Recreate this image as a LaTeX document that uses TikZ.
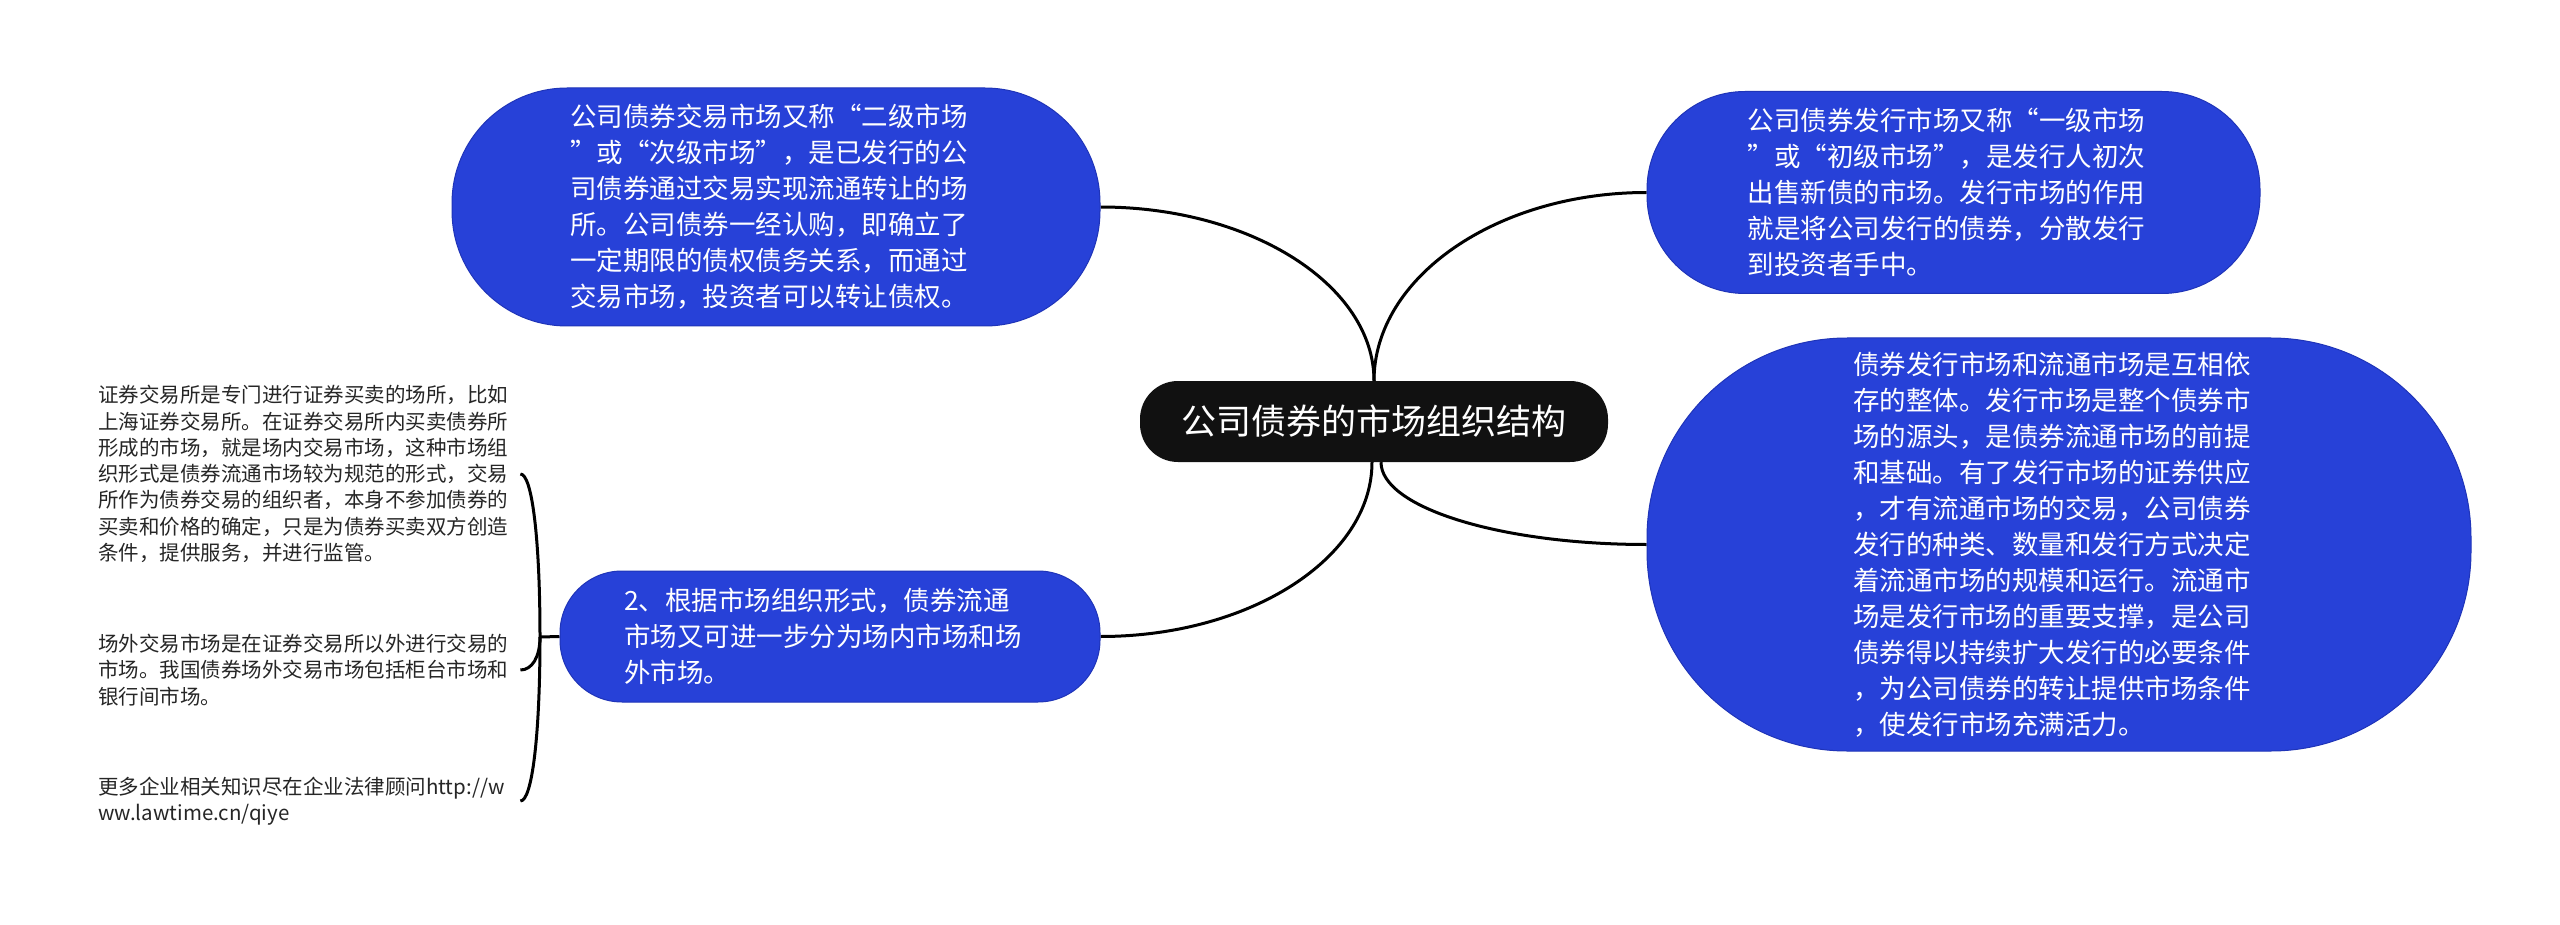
\documentclass[tikz,border=0pt]{standalone}
\usepackage{fontspec}
\setmainfont{Noto Sans CJK SC}
\usetikzlibrary{backgrounds,calc}
\definecolor{nodeblue}{HTML}{2741D8}
\definecolor{nodeedge}{HTML}{1F34B8}
\definecolor{rootfill}{HTML}{111111}
\definecolor{leaftext}{HTML}{262626}
\tikzset{
  bluebox/.style={fill=nodeblue, draw=nodeedge, line width=1pt, text=white, align=left, inner sep=0pt, font=\fontsize{26.5}{36}\selectfont},
  rootbox/.style={fill=rootfill, text=white, inner sep=0pt, rounded corners=38pt, minimum width=468pt, minimum height=81pt, font=\fontsize{35}{42}\selectfont},
  leafnote/.style={text=leaftext, align=left, inner sep=0pt, text width=422pt, anchor=west, font=\fontsize{20.5}{26.3}\selectfont},
  link/.style={draw=black, line width=3pt},
}
\newcommand{\bend}[4]{% start, corner, end, factor
  \draw[link] (#1) .. controls ($(#1)!#4!(#2)$) and ($(#3)!#4!(#2)$) .. (#3);}
\newcommand{\pad}{\kern14pt}
\begin{document}
\begin{tikzpicture}[x=1pt,y=-1pt]
\useasboundingbox (0,0) rectangle (2560,925);

\node[rootbox] (root) at (1374,421.5) {公司债券的市场组织结构};

\node[bluebox, minimum width=648pt, minimum height=238pt, rounded corners=115pt] (tl) at (776,207)
{公司债券交易市场又称“二级市场\pad\\”或“次级市场”，是已发行的公\\司债券通过交易实现流通转让的场\\所。公司债券一经认购，即确立了\\一定期限的债权债务关系，而通过\\交易市场，投资者可以转让债权。};

\node[bluebox, minimum width=613pt, minimum height=202pt, rounded corners=98pt] (tr) at (1953.5,192.5)
{公司债券发行市场又称“一级市场\pad\\”或“初级市场”，是发行人初次\\出售新债的市场。发行市场的作用\\就是将公司发行的债券，分散发行\\到投资者手中。};

\node[bluebox, minimum width=824pt, minimum height=413pt, rounded corners=200pt] (rt) at (2059,544.5)
{债券发行市场和流通市场是互相依\pad\\存的整体。发行市场是整个债券市\\场的源头，是债券流通市场的前提\\和基础。有了发行市场的证券供应\\，才有流通市场的交易，公司债券\\发行的种类、数量和发行方式决定\\着流通市场的规模和运行。流通市\\场是发行市场的重要支撑，是公司\\债券得以持续扩大发行的必要条件\\，为公司债券的转让提供市场条件\\，使发行市场充满活力。};

\node[bluebox, minimum width=540pt, minimum height=131pt, rounded corners=62pt] (lm) at (830,636.5)
{2、根据市场组织形式，债券流通\\市场又可进一步分为场内市场和场\pad\\外市场。};

\node[leafnote] (c1) at (98,474)
{证券交易所是专门进行证券买卖的场所，比如\\上海证券交易所。在证券交易所内买卖债券所\\形成的市场，就是场内交易市场，这种市场组\\织形式是债券流通市场较为规范的形式，交易\\所作为债券交易的组织者，本身不参加债券的\\买卖和价格的确定，只是为债券买卖双方创造\\条件，提供服务，并进行监管。};

\node[leafnote] (c2) at (98,670)
{场外交易市场是在证券交易所以外进行交易的\\市场。我国债券场外交易市场包括柜台市场和\\银行间市场。};

\node[leafnote] (c3) at (98,801)
{更多企业相关知识尽在企业法律顾问http://w\\ww.lawtime.cn/qiye};

\coordinate (j) at (540,637);
\coordinate (rn) at (root.north);
\coordinate (rsr) at ([xshift=7pt]root.south);
\coordinate (rsl) at ([xshift=-2pt]root.south);
\coordinate (ktl) at (rn |- tl.east);
\coordinate (ktr) at (rn |- tr.west);
\coordinate (krt) at (rsr |- rt.west);
\coordinate (klm) at (rsl |- lm.east);
\coordinate (k1) at (j |- c1.east);
\coordinate (k2) at (j |- c2.east);
\coordinate (k3) at (j |- c3.east);

\begin{pgfonlayer}{background}
\fill[white] (0,0) rectangle (2560,925);
\bend{rn}{ktl}{tl.east}{0.55}
\bend{rn}{ktr}{tr.west}{0.55}
\bend{rsr}{krt}{rt.west}{0.55}
\bend{rsl}{klm}{lm.east}{0.55}
\draw[link] (lm.west) -- (j);
\bend{j}{k1}{c1.east}{0.6}
\bend{j}{k2}{c2.east}{0.6}
\bend{j}{k3}{c3.east}{0.6}
\end{pgfonlayer}
\end{tikzpicture}
\end{document}
